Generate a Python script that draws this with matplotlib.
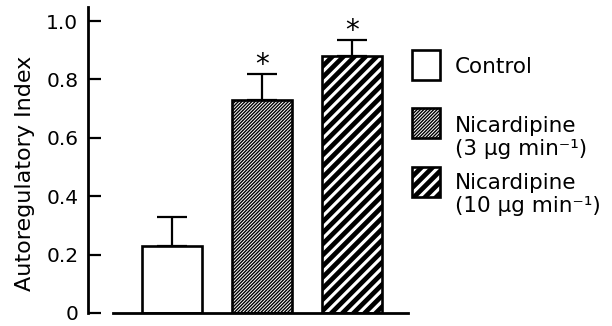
import matplotlib
matplotlib.use("Agg")
import matplotlib.pyplot as plt
from matplotlib.patches import Rectangle

categories = ["Control", "Nicardipine (3 μg min⁻¹)", "Nicardipine (10 μg min⁻¹)"]
values = [0.23, 0.73, 0.88]
errors = [0.10, 0.09, 0.055]
significant = [False, True, True]
legend_lines = [["Control"], ["Nicardipine", "(3 μg min⁻¹)"], ["Nicardipine", "(10 μg min⁻¹)"]]
yticks = [0, 0.2, 0.4, 0.6, 0.8, 1.0]
yticklabels = ["0", "0.2", "0.4", "0.6", "0.8", "1.0"]

plt.rcParams['font.family'] = ['DejaVu Sans']

W, H = 612, 326
fig = plt.figure(figsize=(W / 100, H / 100), dpi=100)

def px(x0, y0_top, x1, y1_top):
    return [x0 / W, 1 - y1_top / H, (x1 - x0) / W, (y1_top - y0_top) / H]

ax = fig.add_axes(px(88, 7, 410, 313))
ax.set_ylim(0, 1.048)
ax.set_xlim(-0.933, 2.644)

styles = [
    dict(hatch=None, hlw=1.0),
    dict(hatch='//////////', hlw=1.0),
    dict(hatch='///', hlw=3.4),
]
xs = list(range(len(values)))
bar_w = 0.667
for x, v, st in zip(xs, values, styles):
    with plt.rc_context({'hatch.linewidth': st['hlw'], 'hatch.color': 'black'}):
        b = ax.bar(x, v, width=bar_w, color='white', edgecolor='black',
                   linewidth=1.9, hatch=st['hatch'], zorder=2)
    for p in b:
        if hasattr(p, 'set_hatch_linewidth'):
            p.set_hatch_linewidth(st['hlw'])

ax.errorbar(xs, values, yerr=[[0] * len(errors), errors], fmt='none',
            ecolor='black', elinewidth=1.6, capsize=10.5, capthick=1.6, zorder=1)

for x, v, e, s in zip(xs, values, errors, significant):
    if s:
        ax.annotate('*', xy=(x, v + e), xytext=(0, 0.5), textcoords='offset points',
                    ha='center', va='baseline', fontsize=20, color='black')

for side in ['top', 'right']:
    ax.spines[side].set_visible(False)
ax.spines['left'].set_linewidth(2.0)
ax.spines['bottom'].set_linewidth(2.0)
ax.spines['bottom'].set_bounds(-0.656, 2.622)

ax.set_yticks(yticks)
ax.set_yticklabels(yticklabels)
ax.tick_params(axis='y', direction='in', length=9, width=1.6, pad=7,
               labelsize=14.5)
ax.set_xticks([])
ax.set_ylabel('Autoregulatory Index', fontsize=16)
ax.yaxis.set_label_coords(-0.165, 0.457)

# legend (manual)
box_rows = [(50, 80), (108, 138), (167, 197)]
baselines = [[73], [132, 155], [189, 212]]
for (top, bot), st, lines, bls in zip(box_rows, styles, legend_lines, baselines):
    with plt.rc_context({'hatch.linewidth': st['hlw'], 'hatch.color': 'black'}):
        r = Rectangle((412 / W, 1 - bot / H), 28 / W, (bot - top) / H,
                      transform=fig.transFigure, facecolor='white',
                      edgecolor='black', linewidth=1.9, hatch=st['hatch'])
    if hasattr(r, 'set_hatch_linewidth'):
        r.set_hatch_linewidth(st['hlw'])
    fig.add_artist(r)
    for line, bl in zip(lines, bls):
        fig.text(455 / W, 1 - bl / H, line, ha='left', va='baseline',
                 fontsize=15.5)

fig.savefig('out.png', dpi=100)
